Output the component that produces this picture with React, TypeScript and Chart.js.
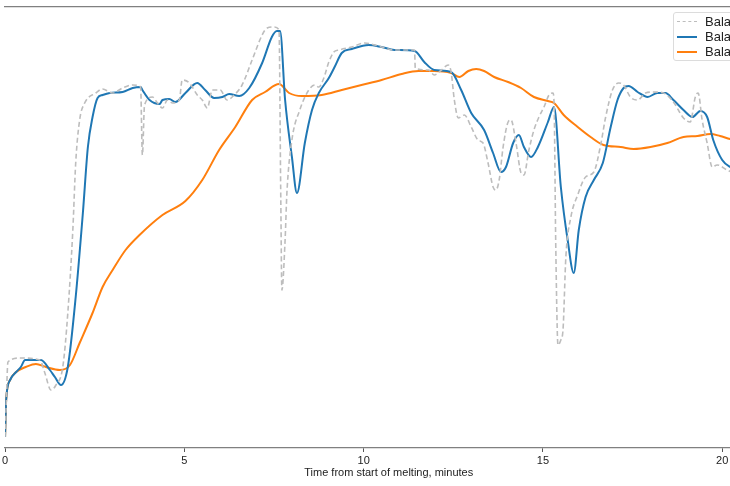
import { useEffect, useRef } from 'react';
import { Chart, registerables } from 'chart.js';

// time from start of melting, minutes / balance value (axis is cropped, arbitrary units)
const rawTime = [
  0, 0.03, 0.08, 0.42, 0.97, 1.11, 1.28, 1.42, 1.61, 1.75, 1.89, 1.97, 2.08, 2.22, 2.53, 2.72,
  3.0, 3.28, 3.56, 3.78, 3.83, 3.89, 4.11, 4.25, 4.39, 4.53, 4.67, 4.86, 4.94, 5.14, 5.36, 5.5,
  5.64, 5.78, 6.0, 6.19, 6.39, 6.61, 6.89, 7.17, 7.31, 7.5, 7.64, 7.69, 7.72, 7.81, 7.86, 8.0,
  8.22, 8.47, 8.64, 8.75, 8.89, 9.03, 9.17, 9.31, 9.67, 10.03, 10.5, 10.86, 11.42, 11.44, 11.81,
  11.97, 12.17, 12.36, 12.44, 12.53, 12.64, 12.81, 13.0, 13.19, 13.33, 13.47, 13.61, 13.69, 13.78,
  13.89, 14.03, 14.11, 14.25, 14.39, 14.47, 14.61, 14.75, 14.89, 15.03, 15.17, 15.28, 15.31, 15.36,
  15.42, 15.5, 15.56, 15.64, 15.78, 15.97, 16.19, 16.42, 16.61, 16.75, 16.94, 17.11, 17.25, 17.44,
  17.64, 17.86, 18.08, 18.36, 18.64, 18.92, 19.11, 19.25, 19.33, 19.44, 19.58, 19.72, 19.86, 20.14,
  20.36, 20.64, 21.0, 21.4,
];
const rawBalance = [
  11, 41, 86, 90, 88, 75, 58, 63, 81, 135, 218, 285, 328, 345, 355, 359,
  355, 360, 363, 361, 293, 343, 351, 345, 340, 348, 345, 348, 368, 365, 353, 348,
  340, 358, 358, 348, 353, 363, 388, 413, 420, 421, 418, 248, 158, 208, 255, 308,
  338, 358, 363, 361, 370, 386, 396, 398, 401, 405, 401, 398, 398, 380, 378,
  373, 378, 383, 376, 348, 330, 333, 321, 308, 305, 285, 261, 258, 268,
  301, 326, 328, 305, 275, 273, 298, 318, 331, 341, 353, 355, 346, 198,
  103, 108, 118, 191, 231, 253, 271, 276, 303, 331, 358, 365, 363, 351,
  348, 355, 356, 355, 346, 330, 326, 351, 355, 328, 305, 281, 283, 278,
  275, 276, 272, 270,
];

const smoothTime = [
  0, 0.03, 0.14, 0.31, 0.44, 0.56, 1.0, 1.25, 1.39, 1.56, 1.75, 1.97, 2.17, 2.31, 2.44, 2.58,
  2.72, 2.92, 3.28, 3.56, 3.78, 3.83, 4.03, 4.31, 4.39, 4.58, 4.75, 5.03, 5.36, 5.58, 5.83, 6.06,
  6.25, 6.53, 6.81, 7.17, 7.44, 7.58, 7.67, 7.81, 8.0, 8.14, 8.36, 8.56, 8.75, 9.03, 9.19, 9.39,
  9.67, 10.14, 10.5, 10.86, 11.42, 11.69, 11.97, 12.44, 12.72, 13.0, 13.36, 13.61, 13.83, 13.97,
  14.17, 14.33, 14.47, 14.67, 14.86, 15.14, 15.31, 15.5, 15.69, 15.86, 16.0, 16.19, 16.42, 16.67,
  16.89, 17.08, 17.25, 17.39, 17.64, 17.92, 18.19, 18.42, 18.64, 18.92, 19.17, 19.39, 19.58, 19.75,
  20.0, 20.22, 20.5, 21.0, 21.4,
];
const smoothBalance = [
  11, 48, 68, 76, 81, 88, 88, 78, 71, 63, 81, 151, 235, 301, 331, 350,
  353, 355, 356, 360, 361, 358, 348, 344, 348, 349, 346, 355, 365, 358, 350, 351,
  354, 352, 360, 385, 411, 417, 417, 348, 291, 255, 305, 338, 355, 370, 381, 395,
  399, 403, 401, 398, 397, 386, 378, 376, 358, 335, 318, 295, 276, 281,
  305, 313, 301, 291, 301, 326, 341, 261, 208, 175, 218, 251, 268, 285,
  321, 348, 360, 362, 356, 351, 355, 355, 348, 338, 331, 337, 331, 308,
  288, 281, 278, 274, 272,
];

const trendTime = [
  0, 0.03, 0.14, 0.31, 0.58, 0.86, 1.14, 1.53, 1.81, 2.08, 2.44, 2.72, 3.0, 3.36, 3.75, 4.39,
  5.03, 5.5, 5.97, 6.42, 6.89, 7.25, 7.64, 7.92, 8.28, 8.83, 9.39, 9.94, 10.5, 11.06, 11.53, 11.97,
  12.44, 12.67, 12.92, 13.14, 13.36, 13.64, 14.03, 14.39, 14.75, 15.14, 15.31, 15.58, 15.97, 16.33,
  16.69, 17.17, 17.53, 18.0, 18.47, 18.92, 19.31, 19.67, 19.94, 20.22, 20.64, 21.0, 21.4,
];
const trendBalance = [
  11, 48, 68, 76, 81, 84, 81, 78, 83, 105, 135, 161, 178, 198, 213, 233,
  247, 268, 298, 321, 348, 356, 364, 355, 352, 353, 358, 363, 368, 374, 377, 377,
  375, 371, 377, 379, 377, 371, 366, 360, 351, 347, 345, 333, 321, 311,
  303, 301, 299, 301, 305, 311, 312, 314, 312, 309, 306, 303, 301,
];

const seriesLabels = ['Balance, measured', 'Balance, smoothed', 'Balance, averaged'];
const xTicks = [0, 5, 10, 15, 20];

const FONT = '"Liberation Sans", "DejaVu Sans", sans-serif';

const toPoints = (xs: number[], ys: number[]) => xs.map((x, i) => ({ x, y: ys[i] }));

export default function App() {
  const chartRef = useRef<HTMLCanvasElement>(null);
  const chartInstanceRef = useRef<Chart | null>(null);

  useEffect(() => {
    document.body.style.margin = '0';
    document.body.style.overflow = 'hidden';
    if (!chartRef.current) return;

    Chart.register(...registerables);

    if (chartInstanceRef.current) {
      chartInstanceRef.current.destroy();
    }

    const ctx = chartRef.current.getContext('2d');
    if (!ctx) return;

    chartInstanceRef.current = new Chart(ctx, {
      type: 'line',
      data: {
        datasets: [
          {
            label: seriesLabels[0],
            data: toPoints(rawTime, rawBalance),
            borderColor: '#bdbdbd',
            borderWidth: 1.6,
            borderDash: [5, 3],
            pointRadius: 0,
            cubicInterpolationMode: 'monotone',
          },
          {
            label: seriesLabels[1],
            data: toPoints(smoothTime, smoothBalance),
            borderColor: '#1f77b4',
            borderWidth: 2,
            pointRadius: 0,
            cubicInterpolationMode: 'monotone',
          },
          {
            label: seriesLabels[2],
            data: toPoints(trendTime, trendBalance),
            borderColor: '#ff7f0e',
            borderWidth: 2,
            pointRadius: 0,
            cubicInterpolationMode: 'monotone',
          },
        ],
      },
      options: {
        responsive: true,
        maintainAspectRatio: false,
        animation: false,
        layout: {
          autoPadding: false,
          padding: { left: 2, right: 11.6, top: 7, bottom: 0 },
        },
        plugins: {
          legend: { display: false },
          tooltip: { enabled: false },
        },
        scales: {
          x: {
            type: 'linear',
            min: 0,
            max: 21.4,
            afterFit: (scale) => {
              scale.height = 38;
            },
            afterBuildTicks: (scale) => {
              scale.ticks = xTicks.map(value => ({ value }));
            },
            border: { display: true, color: '#808080', width: 1.3 },
            grid: {
              display: true,
              drawOnChartArea: false,
              drawTicks: true,
              tickLength: 4,
              tickColor: '#555555',
            },
            ticks: {
              color: '#222222',
              padding: 2,
              maxRotation: 0,
              font: { family: FONT, size: 11 },
            },
            title: {
              display: true,
              text: 'Time from start of melting, minutes',
              color: '#222222',
              padding: { top: 0, bottom: 6 },
              font: { family: FONT, size: 11 },
            },
          },
          xTop: {
            type: 'linear',
            position: 'top',
            min: 0,
            max: 21.4,
            afterFit: (scale) => {
              scale.height = 0;
            },
            border: { display: true, color: '#808080', width: 1.3 },
            grid: { display: false },
            ticks: { display: false },
          },
          y: {
            display: false,
            min: 0,
            max: 441,
          },
        },
      },
    });

    return () => {
      if (chartInstanceRef.current) {
        chartInstanceRef.current.destroy();
        chartInstanceRef.current = null;
      }
    };
  }, []);

  const legendRows = [
    { label: seriesLabels[0], color: '#bdbdbd', dashed: true },
    { label: seriesLabels[1], color: '#1f77b4', dashed: false },
    { label: seriesLabels[2], color: '#ff7f0e', dashed: false },
  ];

  return (
    <div style={{ position: 'relative', width: 730, height: 486, overflow: 'hidden', background: '#fff' }}>
      <div style={{ position: 'absolute', left: 0, top: 0, width: 784, height: 486 }}>
        <canvas ref={chartRef} />
      </div>
      <div
        style={{
          position: 'absolute',
          left: 673,
          top: 12,
          width: 95,
          height: 47,
          border: '1px solid #dcdcdc',
          borderRadius: 3,
          background: 'rgba(255,255,255,0.85)',
          fontFamily: FONT,
          fontSize: 13,
          color: '#222',
        }}
      >
        {legendRows.map((row, i) => (
          <div
            key={row.label}
            style={{ position: 'absolute', left: 3, top: 1 + i * 15, height: 15, display: 'flex', alignItems: 'center', whiteSpace: 'nowrap' }}
          >
            <span
              style={{
                display: 'inline-block',
                width: 20,
                height: 0,
                borderTop: row.dashed ? `1.6px dashed ${row.color}` : `2px solid ${row.color}`,
                marginRight: 8,
              }}
            />
            <span>{row.label}</span>
          </div>
        ))}
      </div>
    </div>
  );
}
